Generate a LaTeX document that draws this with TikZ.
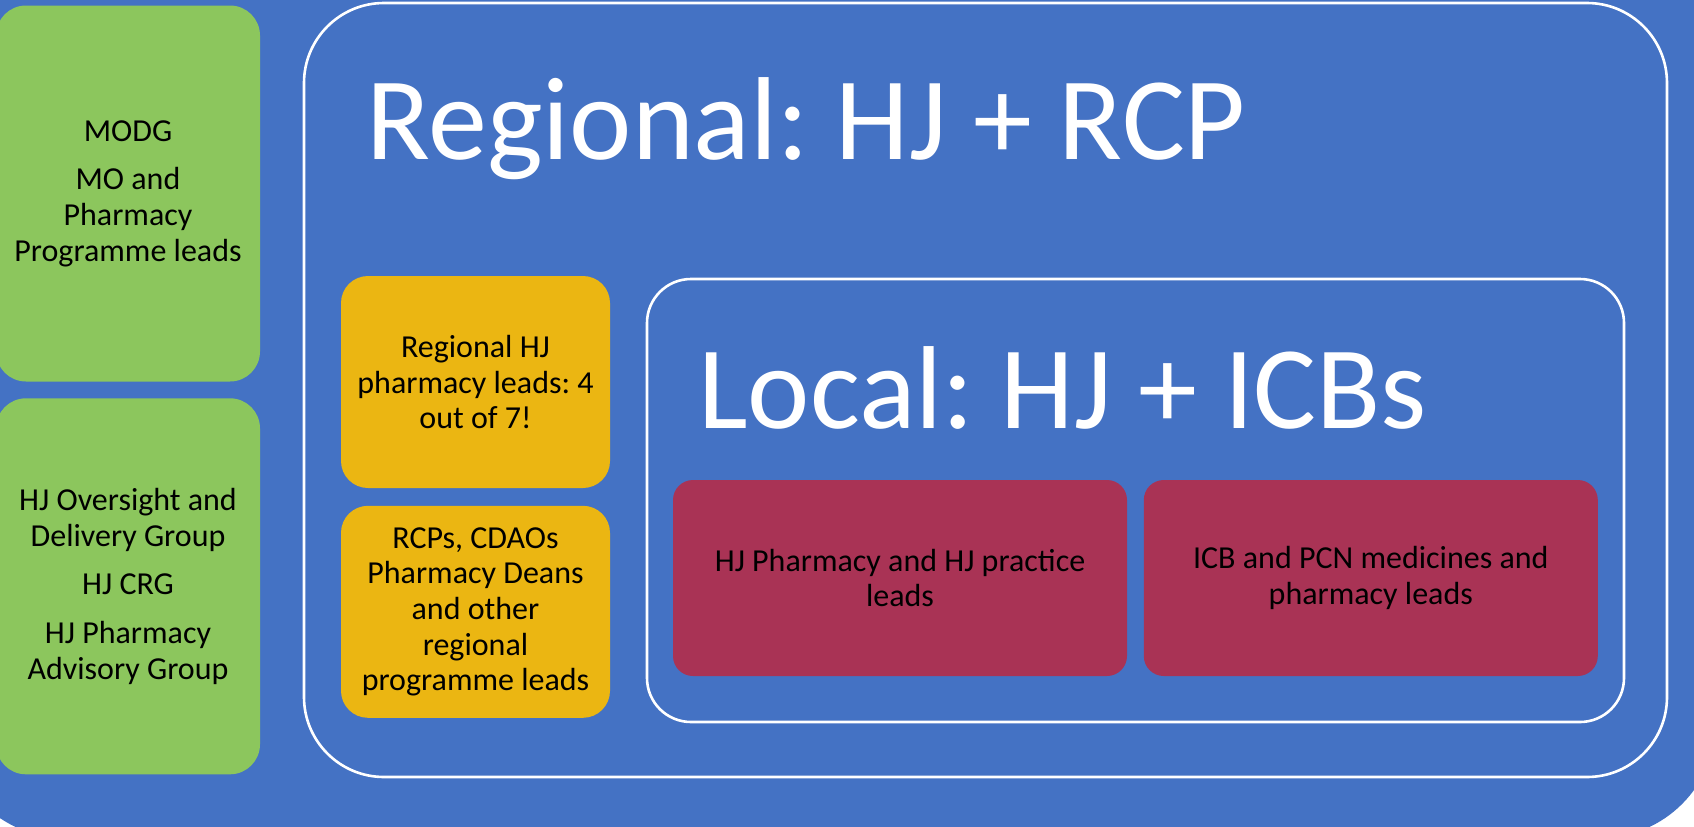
\documentclass[tikz,border=0pt]{standalone}
\usepackage{fontspec}
\setmainfont{Carlito}
\usepackage{tikz}
\usepackage{xcolor}
\usetikzlibrary{positioning}

\definecolor{slideblue}{HTML}{4472C4}
\definecolor{leafgreen}{HTML}{8CC65D}
\definecolor{gold}{HTML}{EBB612}
\definecolor{berry}{HTML}{A93355}

\begin{document}
\begin{tikzpicture}[x=0.5pt, y=-0.5pt,
    box/.style={rectangle, align=center, text=black,
        font=\fontsize{16pt}{17.8pt}\selectfont\frenchspacing},
    greenbox/.style={box, fill=leafgreen, rounded corners=15pt,
        minimum width=132pt, minimum height=188pt},
    goldbox/.style={box, fill=gold, rounded corners=13.5pt,
        minimum width=134.5pt, minimum height=106pt},
    redbox/.style={box, fill=berry, rounded corners=10pt,
        minimum width=227pt, minimum height=98pt},
    frame/.style={draw=white, line width=1.3pt},
    title/.style={text=white, anchor=base west, inner sep=0pt,
        font=\fontsize{59pt}{62pt}\selectfont\frenchspacing}]

    % Page and blue slide background
    \useasboundingbox (0,0) rectangle (1694,826);
    \fill[white] (0,0) rectangle (1694,826);
    \fill[slideblue, rounded corners=58pt] (-51,-200) rectangle (1716,838);

    % Regional and local frames
    \draw[frame, rounded corners=40pt] (304,3) rectangle (1667,777);
    \draw[frame, rounded corners=22pt] (647,279) rectangle (1624,722);

    % Titles
    \node[title] (regional) at (366,159) {Regional: HJ + RCP};
    \node[title] (local) at (698,428) {Local: HJ + ICBs};

    % National groups on the left
    \node[greenbox] (modg) at (128,193.5)
        {MODG\\[6.5pt] MO and\\ Pharmacy\\ Programme leads};
    \node[greenbox, below=8pt of modg] (oversight)
        {HJ Oversight and\\ Delivery Group\\[6.5pt] HJ CRG\\[6.5pt] HJ Pharmacy\\ Advisory Group};

    % Regional leads
    \node[goldbox] (hjleads) at (475.5,382)
        {Regional HJ\\ pharmacy leads: 4\\ out of 7!};
    \node[goldbox, below=8.5pt of hjleads] (rcps)
        {RCPs, CDAOs\\ Pharmacy Deans\\ and other\\ regional\\ programme leads};

    % Local leads
    \node[redbox] (practice) at (900,578)
        {HJ Pharmacy and HJ practice\\ leads};
    \node[redbox, right=8pt of practice] (icb)
        {ICB and PCN medicines and\\ pharmacy leads};

\end{tikzpicture}
\end{document}
